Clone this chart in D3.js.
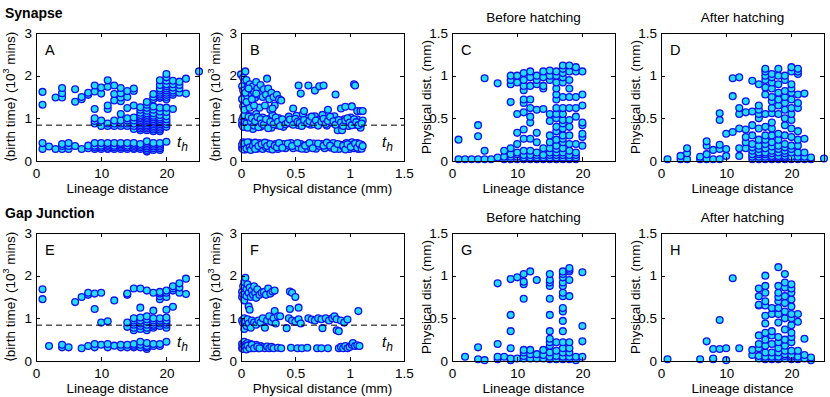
<!DOCTYPE html>
<meta charset="utf-8">
<style>
body { margin: 0; background: #fff; }
svg text { font-family: "Liberation Sans", Arial, Helvetica, sans-serif; fill: #000; }
.axis path, .axis line { stroke: #000; stroke-width: 1px; shape-rendering: crispEdges; }
.axis text { font-size: 13.5px; }
.dot { fill: #22dcfb; stroke: #1111ee; stroke-width: 1.3px; }
.thline { stroke: #000; stroke-dasharray: 6,4; stroke-width: 1px; }
</style>
<svg width="830" height="397"></svg>
<script src="https://d3js.org/d3.v7.min.js"></script>
<script>
// ---- data ----
// lineage-distance panels: [lineage distance, [values...]]
var synBirthLin = [
  [1, [0.28, 0.42, 1.32, 1.62]],
  [2, [0.34]],
  [3, [0.28, 1.49]],
  [4, [0.28, 0.35, 0.40, 1.49, 1.59, 1.71]],
  [5, [0.28, 0.35, 0.42]],
  [6, [0.35, 1.39, 1.68]],
  [7, [0.28, 1.45, 1.50]],
  [8, [0.30, 0.36, 1.55, 1.60]],
  [9, [0.28, 0.32, 0.36, 0.42, 0.88, 0.94, 1.0, 1.22, 1.63, 1.77]],
  [10, [0.28, 0.32, 0.36, 0.42, 0.82, 0.95, 1.58, 1.72]],
  [11, [0.28, 0.31, 0.35, 0.38, 0.42, 0.82, 0.88, 1.22, 1.30, 1.74, 1.89]],
  [12, [0.28, 0.32, 0.36, 0.42, 0.82, 0.88, 0.95, 1.42, 1.57, 1.77]],
  [13, [0.28, 0.32, 0.36, 0.39, 0.42, 0.82, 0.88, 0.95, 1.10, 1.40, 1.49, 1.59, 1.71]],
  [14, [0.28, 0.32, 0.36, 0.42, 0.82, 0.88, 0.95, 1.0, 1.24, 1.50, 1.64]],
  [15, [0.28, 0.31, 0.35, 0.38, 0.42, 0.75, 0.82, 0.88, 0.95, 1.02, 1.30, 1.64, 1.70]],
  [16, [0.28, 0.32, 0.36, 0.40, 0.72, 0.76, 0.80, 0.84, 0.88, 0.92, 0.96, 1.0, 1.04, 1.08, 1.13, 1.20, 1.26]],
  [17, [0.22, 0.26, 0.30, 0.34, 0.38, 0.42, 0.46, 0.72, 0.76, 0.80, 0.84, 0.88, 0.92, 0.96, 1.0, 1.04, 1.08, 1.12, 1.18, 1.25, 1.32, 1.38]],
  [18, [0.26, 0.30, 0.34, 0.38, 0.42, 0.70, 0.74, 0.78, 0.82, 0.86, 0.90, 0.94, 0.98, 1.02, 1.06, 1.12, 1.20, 1.28, 1.45, 1.50, 1.57]],
  [19, [0.26, 0.30, 0.34, 0.38, 0.42, 0.70, 0.74, 0.78, 0.82, 0.86, 0.90, 0.94, 0.98, 1.02, 1.08, 1.16, 1.25, 1.48, 1.52, 1.56, 1.60, 1.65, 1.70, 1.78, 1.89]],
  [20, [0.45, 0.80, 0.86, 0.92, 0.98, 1.05, 1.15, 1.25, 1.45, 1.50, 1.55, 1.60, 1.65, 1.70, 1.75, 1.80, 1.88, 1.96, 2.04]],
  [21, [1.22, 1.55, 1.60, 1.65, 1.72, 1.80, 1.88]],
  [22, [1.60, 1.70, 1.78, 1.86]],
  [23, [1.58, 1.93]],
  [25, [2.1]]
];

var synPhysBefore = [
  [1, [0.02, 0.25]],
  [2, [0.02]],
  [3, [0.02]],
  [4, [0.02, 0.29, 0.42]],
  [5, [0.02, 0.12, 0.97]],
  [6, [0.02]],
  [7, [0.04, 0.91]],
  [8, [0.02, 0.05, 0.12]],
  [9, [0.02, 0.05, 0.08, 0.15, 0.69, 0.90, 0.95, 1.0]],
  [10, [0.02, 0.05, 0.08, 0.10, 0.20, 0.33, 0.55, 0.92, 1.0]],
  [11, [0.02, 0.04, 0.07, 0.12, 0.26, 0.37, 0.57, 0.68, 0.72, 0.83, 0.88, 0.95, 1.03]],
  [12, [0.02, 0.04, 0.07, 0.12, 0.26, 0.45, 0.52, 0.62, 0.72, 0.88, 0.98, 1.05]],
  [13, [0.02, 0.04, 0.07, 0.10, 0.22, 0.33, 0.60, 0.90, 0.95, 1.0]],
  [14, [0.02, 0.04, 0.07, 0.15, 0.61, 0.85, 0.88, 0.98, 1.05]],
  [15, [0.02, 0.04, 0.07, 0.10, 0.15, 0.22, 0.30, 0.47, 0.55, 0.95, 1.0, 1.06]],
  [16, [0.02, 0.04, 0.07, 0.10, 0.14, 0.18, 0.25, 0.35, 0.40, 0.50, 0.55, 0.62, 0.72, 0.78, 0.85, 0.92, 1.0, 1.05]],
  [17, [0.02, 0.04, 0.07, 0.10, 0.15, 0.22, 0.26, 0.30, 0.38, 0.44, 0.48, 0.55, 0.62, 0.75, 0.92, 0.98, 1.03, 1.08, 1.12]],
  [18, [0.02, 0.04, 0.07, 0.12, 0.20, 0.30, 0.40, 0.48, 0.62, 0.75, 0.85, 0.95, 1.05, 1.12]],
  [19, [0.02, 0.04, 0.07, 0.10, 0.20, 0.52, 0.62, 0.75, 1.05, 1.10]],
  [20, [0.18, 0.28, 0.32, 0.42, 0.45, 0.65, 0.78, 1.05]]
];

var synPhysAfter = [
  [1, [0.02]],
  [3, [0.02, 0.06]],
  [4, [0.02, 0.09, 0.15]],
  [6, [0.02, 0.05]],
  [7, [0.02, 0.08, 0.18, 0.23]],
  [8, [0.02, 0.13]],
  [9, [0.02, 0.14, 0.19, 0.48, 0.56]],
  [10, [0.06, 0.14, 0.32]],
  [11, [0.34, 0.76, 0.97]],
  [12, [0.06, 0.15, 0.38, 0.55, 0.62, 0.98]],
  [13, [0.15, 0.22, 0.28, 0.37, 0.57, 0.70]],
  [14, [0.02, 0.05, 0.08, 0.12, 0.16, 0.20, 0.30, 0.42, 0.58, 0.94]],
  [15, [0.02, 0.05, 0.08, 0.10, 0.14, 0.18, 0.25, 0.38, 0.50, 0.55, 0.60, 0.65, 0.90]],
  [16, [0.02, 0.05, 0.08, 0.10, 0.15, 0.20, 0.25, 0.30, 0.40, 0.55, 0.78, 0.86, 0.95, 1.0, 1.05, 1.08]],
  [17, [0.02, 0.04, 0.06, 0.09, 0.12, 0.17, 0.22, 0.30, 0.38, 0.45, 0.56, 0.62, 0.70, 0.75, 0.85, 0.92, 0.98, 1.02]],
  [18, [0.02, 0.04, 0.06, 0.10, 0.14, 0.18, 0.25, 0.32, 0.55, 0.65, 0.72, 0.80, 0.90, 1.0, 1.08]],
  [19, [0.02, 0.04, 0.06, 0.09, 0.12, 0.16, 0.20, 0.30, 0.42, 0.50, 0.60, 0.68, 0.75, 0.82, 0.95, 1.0]],
  [20, [0.02, 0.05, 0.10, 0.14, 0.18, 0.28, 0.38, 0.48, 0.55, 0.62, 0.72, 0.80, 0.85, 0.90, 1.05, 1.10]],
  [21, [0.02, 0.05, 0.10, 0.18, 0.25, 0.35, 0.62, 0.68, 0.78, 1.02, 1.05, 1.08]],
  [22, [0.02, 0.05, 0.10, 0.26, 0.79]],
  [23, [0.02, 0.04]],
  [25, [0.03]]
];

var gapBirthLin = [
  [1, [1.45, 1.68]],
  [2, [0.35]],
  [4, [0.32, 0.38]],
  [5, [0.32]],
  [6, [1.38]],
  [7, [0.30, 1.50]],
  [8, [0.35, 1.55, 1.60]],
  [9, [0.32, 0.40, 1.22, 1.58]],
  [10, [0.38, 0.90, 1.60]],
  [11, [0.32, 0.40, 0.93]],
  [12, [0.36, 1.42]],
  [13, [0.32, 0.38]],
  [14, [0.32, 0.38, 0.80, 0.90, 1.55, 1.58]],
  [15, [0.32, 0.36, 0.40, 0.72, 0.78, 0.85, 0.90, 0.95, 1.00, 1.70]],
  [16, [0.32, 0.38, 0.45, 0.75, 0.82, 0.88, 0.95, 1.02, 1.25, 1.70]],
  [17, [0.28, 0.32, 0.35, 0.42, 0.72, 0.78, 0.85, 0.92, 0.98, 1.05, 1.65]],
  [18, [0.35, 0.40, 0.78, 0.82, 0.85, 0.90, 0.95, 1.00, 1.18, 1.60]],
  [19, [0.35, 0.40, 0.82, 0.88, 0.95, 1.00, 1.45, 1.52, 1.58, 1.62]],
  [20, [0.45, 0.78, 0.85, 0.90, 0.95, 1.02, 1.20, 1.50, 1.60, 1.65]],
  [21, [1.27, 1.65, 1.70, 1.75]],
  [22, [1.60, 1.72, 1.82]],
  [23, [1.57, 1.93]]
];

var gapPhysBefore = [
  [2, [0.05]],
  [4, [0.02, 0.16]],
  [5, [0.01]],
  [7, [0.02, 0.05, 0.20, 0.91]],
  [8, [0.05]],
  [9, [0.01, 0.03, 0.15, 0.35, 0.54, 0.96]],
  [10, [0.03, 0.98]],
  [11, [0.03, 0.06, 0.10, 0.13, 0.73, 0.90, 0.93, 1.02]],
  [12, [0.03, 0.08, 0.13, 1.05]],
  [13, [0.03, 0.08, 0.95]],
  [14, [0.03, 0.07, 0.13]],
  [15, [0.02, 0.05, 0.10, 0.18, 0.22, 0.26, 0.35, 0.54, 0.73, 0.88, 0.92, 0.95, 1.02]],
  [16, [0.02, 0.06, 0.12, 0.22]],
  [17, [0.02, 0.05, 0.10, 0.15, 0.22, 0.35, 0.47, 0.58, 0.62, 0.76, 0.80, 0.88, 0.92, 0.98, 1.02, 1.05]],
  [18, [0.02, 0.05, 0.10, 0.15, 0.22, 0.76, 0.95, 1.05, 1.07, 1.09]],
  [19, [0.01, 0.05]],
  [20, [0.05, 0.23, 0.41, 1.04]]
];

var gapPhysAfter = [
  [1, [0.02]],
  [6, [0.02]],
  [7, [0.23]],
  [8, [0.02, 0.03, 0.14]],
  [9, [0.14, 0.48]],
  [10, [0.01, 0.15]],
  [11, [0.97]],
  [12, [0.15]],
  [14, [0.07, 0.13]],
  [15, [0.03, 0.06, 0.15, 0.20, 0.30, 0.65, 0.66, 0.76, 0.85]],
  [16, [0.02, 0.05, 0.10, 0.18, 0.25, 0.33, 0.44, 0.53, 0.65, 0.70, 0.80, 0.88, 1.0]],
  [17, [0.02, 0.05, 0.10, 0.20, 0.30, 0.35, 0.55, 0.62]],
  [18, [0.02, 0.05, 0.10, 0.15, 0.22, 0.28, 0.45, 0.55, 0.62, 0.70, 0.75, 0.80, 0.88, 1.10]],
  [19, [0.03, 0.06, 0.08, 0.12, 0.18, 0.25, 0.37, 0.50, 0.58, 0.68, 0.76, 0.86, 0.92, 1.02]],
  [20, [0.02, 0.05, 0.07, 0.12, 0.22, 0.28, 0.33, 0.42, 0.50, 0.55, 0.64, 0.72, 0.80, 0.85, 0.90]],
  [21, [0.02, 0.05, 0.12, 0.46, 0.55]],
  [22, [0.03, 0.07, 0.26]],
  [23, [0.01, 0.04]]
];

// physical-distance panels: [physical distance (mm), birth time (10^3 mins)]
var synBirthPhys = [
  [0.01,0.30],[0.01,0.38],[0.02,0.44],[0.03,0.33],[0.04,0.27],[0.05,0.40],[0.06,0.35],[0.07,0.30],[0.08,0.43],[0.09,0.36],
  [0.10,0.28],[0.11,0.40],[0.12,0.33],[0.14,0.38],[0.15,0.29],[0.17,0.42],[0.18,0.34],[0.20,0.28],[0.21,0.38],[0.23,0.32],
  [0.25,0.41],[0.26,0.29],[0.28,0.36],[0.30,0.31],[0.32,0.40],[0.34,0.28],[0.36,0.35],[0.39,0.40],[0.41,0.30],[0.44,0.36],
  [0.46,0.42],[0.48,0.30],[0.50,0.37],[0.53,0.31],[0.55,0.40],[0.57,0.34],[0.60,0.28],[0.61,0.38],[0.64,0.32],[0.67,0.41],
  [0.69,0.29],[0.72,0.35],[0.74,0.40],[0.77,0.30],[0.80,0.37],[0.83,0.31],[0.85,0.42],[0.88,0.33],[0.90,0.28],[0.92,0.38],
  [0.95,0.31],[0.97,0.42],[0.99,0.35],[1.00,0.28],[1.02,0.44],[1.03,0.38],[1.04,0.30],[1.06,0.35],[1.07,0.42],[1.08,0.28],
  [1.10,0.33],[1.11,0.38],
  [0.02,0.27],[0.03,0.41],[0.05,0.29],[0.06,0.44],[0.08,0.32],[0.09,0.26],[0.11,0.36],[0.13,0.43],[0.13,0.28],[0.16,0.35],
  [0.19,0.40],[0.22,0.43],[0.24,0.35],[0.27,0.40],[0.29,0.27],[0.31,0.36],[0.33,0.32],[0.35,0.42],[0.38,0.31],[0.43,0.41],
  [0.47,0.35],[0.52,0.42],[0.56,0.29],[0.59,0.36],[0.63,0.42],[0.66,0.30],[0.71,0.41],[0.76,0.36],[0.79,0.43],[0.82,0.36],
  [0.86,0.28],[0.89,0.40],[0.94,0.36],[0.96,0.27],[0.98,0.39],[1.01,0.33],[1.05,0.41],[1.07,0.31],[1.09,0.40],[1.11,0.29],
  [1.12,0.35],
  [0.01,0.85],[0.01,0.95],[0.02,1.02],[0.03,0.90],[0.04,0.80],[0.05,1.08],[0.06,0.92],[0.07,0.98],[0.08,0.84],[0.09,1.05],
  [0.10,0.90],[0.11,0.75],[0.12,0.97],[0.14,1.10],[0.15,0.88],[0.17,0.95],[0.18,0.80],[0.20,1.02],[0.22,0.92],[0.24,0.86],
  [0.26,0.99],[0.28,0.78],[0.29,1.08],[0.31,0.93],[0.33,0.84],[0.35,1.00],[0.37,0.90],[0.39,0.80],[0.42,0.95],[0.44,1.04],
  [0.46,0.88],[0.49,0.93],[0.51,1.06],[0.53,0.84],[0.55,0.97],[0.57,1.10],[0.59,0.90],[0.62,1.00],[0.64,0.85],[0.66,0.94],
  [0.68,1.05],[0.70,0.88],[0.72,0.97],[0.75,1.08],[0.77,0.92],[0.79,0.83],[0.81,1.00],[0.83,0.90],[0.86,1.05],[0.88,0.95],
  [0.89,0.72],[0.91,0.86],[0.93,0.72],[0.95,0.98],[0.97,0.90],[0.99,0.82],[1.01,1.02],[1.03,0.93],[1.05,0.85],[1.07,0.97],
  [1.09,0.88],[1.10,0.78],[1.12,0.95],
  [0.02,0.80],[0.03,1.07],[0.05,0.88],[0.06,0.78],[0.07,1.04],[0.09,0.92],[0.10,1.00],[0.12,0.83],[0.13,0.93],[0.15,1.03],
  [0.16,0.79],[0.18,0.98],[0.19,0.88],[0.21,0.85],[0.23,0.98],[0.25,0.77],[0.27,0.92],[0.30,0.86],[0.32,1.02],[0.34,0.92],
  [0.36,0.82],[0.38,0.98],[0.41,0.86],[0.43,0.90],[0.45,0.97],[0.48,0.85],[0.50,0.99],[0.52,0.92],[0.54,0.89],[0.56,0.82],
  [0.58,0.96],[0.61,0.88],[0.63,0.94],[0.65,1.04],[0.67,0.86],[0.69,0.95],[0.71,0.83],[0.74,0.92],[0.76,0.99],[0.78,0.87],
  [0.80,0.94],[0.82,1.04],[0.85,0.93],[0.87,0.85],[0.90,0.96],[0.92,0.90],[0.94,0.82],[0.96,0.95],[0.98,1.00],[1.00,0.90],
  [1.02,0.84],[1.04,0.98],[1.06,0.91],[1.08,0.84],[1.11,0.88],
  [0.00,2.03],[0.02,1.95],[0.03,1.85],[0.04,2.10],[0.01,1.75],[0.02,1.65],[0.03,1.55],[0.01,1.45],[0.02,1.28],[0.03,1.20],
  [0.05,1.90],[0.06,1.72],[0.07,1.60],[0.06,1.50],[0.08,1.80],[0.09,1.65],[0.10,1.55],[0.08,1.25],[0.11,1.75],[0.12,1.62],
  [0.13,1.48],[0.14,1.85],[0.15,1.70],[0.16,1.55],[0.17,1.25],[0.18,1.78],[0.19,1.60],[0.20,1.50],[0.21,1.68],[0.23,1.55],
  [0.24,1.93],[0.25,1.70],[0.26,1.45],[0.27,1.20],[0.28,1.60],[0.30,1.50],[0.31,1.30],[0.33,1.55],[0.35,1.45],[0.37,1.42],
  [0.29,1.23],[0.22,1.30],[0.12,1.30],[0.04,1.60],[0.05,1.38],[0.07,1.70],[0.10,1.45],[0.14,1.58],
  [0.48,1.23],[0.53,1.77],[0.55,1.58],[0.58,1.17],[0.62,1.77],[0.68,1.65],[0.72,1.75],[0.76,1.77],[0.80,1.20],[0.87,1.56],
  [0.92,1.23],[0.96,1.27],[1.02,1.28],[1.04,1.80],[1.05,1.77],[1.07,1.17],[1.10,1.17],[1.12,1.17]
];

var gapBirthPhys = [
  [0.01,1.50],[0.01,1.62],[0.02,1.75],[0.02,1.55],[0.03,1.85],[0.03,1.42],[0.04,1.95],[0.05,1.68],[0.05,1.52],[0.06,1.80],
  [0.07,1.60],[0.07,1.28],[0.08,1.72],[0.08,1.20],[0.09,1.50],[0.10,1.65],[0.11,1.55],[0.12,1.75],[0.13,1.60],[0.14,1.48],
  [0.15,1.68],[0.17,1.55],[0.19,1.60],[0.21,1.62],[0.23,1.55],[0.25,1.70],[0.27,1.58],[0.29,1.63],[0.31,1.65],[0.45,1.63],
  [0.47,1.60],[0.50,1.50],[0.45,1.22],[0.53,1.25],[0.31,1.17],
  [0.01,0.95],[0.02,0.88],[0.03,1.00],[0.03,0.75],[0.04,0.92],[0.05,0.82],[0.06,0.98],[0.07,0.88],[0.09,0.78],[0.10,0.95],
  [0.12,0.90],[0.14,0.85],[0.16,0.95],[0.18,0.90],[0.20,1.00],[0.22,0.78],[0.24,0.95],[0.26,1.05],[0.28,0.92],[0.30,1.00],
  [0.32,0.88],[0.34,1.05],[0.36,1.05],[0.42,0.77],[0.44,1.00],[0.47,0.95],[0.50,0.92],[0.53,0.98],[0.55,0.88],[0.62,1.00],
  [0.65,0.97],[0.68,0.95],[0.71,1.00],[0.74,0.98],[0.75,0.77],[0.78,1.00],[0.81,0.95],[0.84,1.00],[0.86,1.05],[0.88,0.98],
  [0.88,0.72],[0.90,0.70],[0.92,0.95],[0.95,0.90],[0.98,0.97],[1.08,1.17],
  [0.01,0.30],[0.01,0.40],[0.02,0.35],[0.03,0.45],[0.03,0.28],[0.04,0.38],[0.05,0.32],[0.06,0.42],[0.07,0.30],[0.08,0.36],
  [0.09,0.40],[0.10,0.30],[0.11,0.35],[0.13,0.32],[0.14,0.38],[0.16,0.30],[0.18,0.35],[0.20,0.32],[0.22,0.30],[0.24,0.34],
  [0.26,0.30],[0.28,0.33],[0.30,0.30],[0.34,0.31],[0.37,0.30],[0.46,0.31],[0.52,0.30],[0.56,0.30],[0.61,0.31],[0.70,0.30],
  [0.74,0.30],[0.80,0.30],[0.90,0.30],[0.92,0.33],[0.94,0.30],[0.96,0.35],[0.98,0.30],[1.00,0.33],[1.02,0.38],[1.03,0.42],
  [1.05,0.35],[1.07,0.37],[1.09,0.35],
  [0.02,0.28],[0.04,0.33],[0.05,0.27],[0.06,0.36],[0.08,0.30],[0.10,0.38],[0.12,0.30],[0.15,0.34],[0.17,0.30]
];

var hatchThreshold = 0.84;   // t_h, 10^3 mins
var birthTicks = [0, 1, 2, 3];
var physTicks = [0, 0.5, 1, 1.5];
var lineageTicks = [0, 10, 20];

// ---- drawing ----
var svg = d3.select("svg");

function flatCols(cols) {
  var out = [];
  cols.forEach(function(c) { c[1].forEach(function(v) { out.push([c[0], v]); }); });
  return out;
}

var rowTop = [33, 233];
var colLeft = [36, 241, 452, 661];
var pw = 163, ph = 128;

var panels = [
  {id: "A", row: 0, col: 0, xd: [0, 25], yd: [0, 3], xt: lineageTicks, yt: birthTicks, xl: "Lineage distance", yl: "birth", pts: flatCols(synBirthLin), th: true},
  {id: "B", row: 0, col: 1, xd: [0, 1.5], yd: [0, 3], xt: physTicks, yt: birthTicks, xl: "Physical distance (mm)", yl: "birth", pts: synBirthPhys, th: true},
  {id: "C", row: 0, col: 2, xd: [0, 25], yd: [0, 1.5], xt: lineageTicks, yt: physTicks, xl: "Lineage distance", yl: "phys", pts: flatCols(synPhysBefore), title: "Before hatching"},
  {id: "D", row: 0, col: 3, xd: [0, 25], yd: [0, 1.5], xt: lineageTicks, yt: physTicks, xl: "Lineage distance", yl: "phys", pts: flatCols(synPhysAfter), title: "After hatching"},
  {id: "E", row: 1, col: 0, xd: [0, 25], yd: [0, 3], xt: lineageTicks, yt: birthTicks, xl: "Lineage distance", yl: "birth", pts: flatCols(gapBirthLin), th: true},
  {id: "F", row: 1, col: 1, xd: [0, 1.5], yd: [0, 3], xt: physTicks, yt: birthTicks, xl: "Physical distance (mm)", yl: "birth", pts: gapBirthPhys, th: true},
  {id: "G", row: 1, col: 2, xd: [0, 25], yd: [0, 1.5], xt: lineageTicks, yt: physTicks, xl: "Lineage distance", yl: "phys", pts: flatCols(gapPhysBefore), title: "Before hatching"},
  {id: "H", row: 1, col: 3, xd: [0, 25], yd: [0, 1.5], xt: lineageTicks, yt: physTicks, xl: "Lineage distance", yl: "phys", pts: flatCols(gapPhysAfter), title: "After hatching"}
];

panels.forEach(function(p) {
  var left = colLeft[p.col], top = rowTop[p.row];
  var x = d3.scaleLinear().domain(p.xd).range([0, pw]);
  var y = d3.scaleLinear().domain(p.yd).range([ph, 0]);
  var g = svg.append("g").attr("transform", "translate(" + left + "," + top + ")");

  g.selectAll(".dot")
    .data(p.pts)
    .enter().append("circle")
      .attr("class", "dot")
      .attr("cx", function(d) { return x(d[0]); })
      .attr("cy", function(d) { return y(d[1]); })
      .attr("r", 3.4);

  if (p.th) {
    g.append("line").attr("class", "thline")
      .attr("x1", 0).attr("x2", pw)
      .attr("y1", y(hatchThreshold)).attr("y2", y(hatchThreshold));
    var t = g.append("text")
      .attr("x", pw - 22).attr("y", ph - 14)
      .style("font-size", "15px").style("font-style", "italic")
      .text("t");
    t.append("tspan").attr("dy", 4).style("font-size", "12px").text("h");
  }

  var fmt = function(d) { return String(d); };
  g.append("g").attr("class", "axis")
    .attr("transform", "translate(0," + ph + ")")
    .call(d3.axisBottom(x).tickValues(p.xt).tickFormat(fmt).tickSize(-4).tickSizeOuter(0).tickPadding(7));
  g.append("g").attr("class", "axis")
    .call(d3.axisTop(x).tickValues(p.xt).tickFormat("").tickSize(-4).tickSizeOuter(0));
  g.append("g").attr("class", "axis")
    .call(d3.axisLeft(y).tickValues(p.yt).tickFormat(fmt).tickSize(-4).tickSizeOuter(0).tickPadding(4));
  g.append("g").attr("class", "axis")
    .attr("transform", "translate(" + pw + ",0)")
    .call(d3.axisRight(y).tickValues(p.yt).tickFormat("").tickSize(-4).tickSizeOuter(0));
  g.selectAll(".axis text").attr("fill", "#000");

  g.append("text")
    .attr("x", 9).attr("y", 22)
    .style("font-size", "14.5px")
    .text(p.id);

  g.append("text")
    .attr("x", pw / 2).attr("y", ph + 32)
    .attr("text-anchor", "middle")
    .style("font-size", "13.5px")
    .text(p.xl);

  var yl = g.append("text")
    .attr("transform", "translate(-21," + (ph / 2) + ") rotate(-90)")
    .attr("text-anchor", "middle")
    .style("font-size", "13.5px");
  if (p.yl === "birth") {
    yl.append("tspan").text("\u27E8birth time\u27E9 (10");
    yl.append("tspan").attr("dy", -6).style("font-size", "9px").text("3");
    yl.append("tspan").attr("dy", 6).text(" mins)");
  } else {
    yl.text("Physical dist. (mm)");
  }

  if (p.title) {
    g.append("text")
      .attr("x", pw / 2).attr("y", -11)
      .attr("text-anchor", "middle")
      .style("font-size", "13.5px")
      .text(p.title);
  }
});

svg.append("text").attr("x", 5).attr("y", 18)
  .style("font-size", "14px").style("font-weight", "bold").text("Synapse");
svg.append("text").attr("x", 5).attr("y", 218)
  .style("font-size", "14px").style("font-weight", "bold").text("Gap Junction");
</script>
